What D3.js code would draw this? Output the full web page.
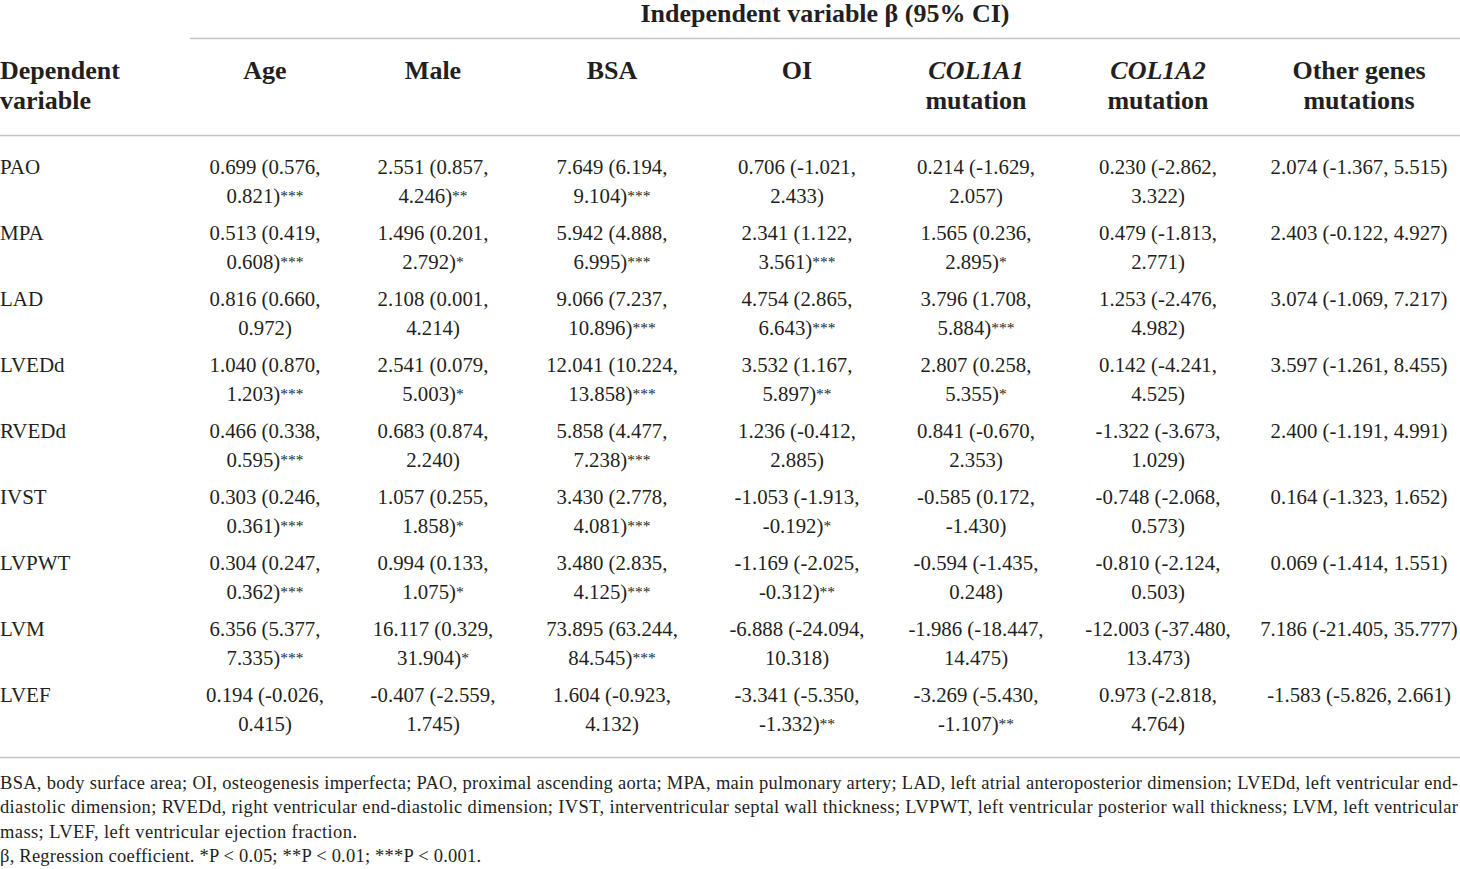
<!DOCTYPE html>
<html><head><meta charset="utf-8">
<script src="https://cdn.jsdelivr.net/npm/d3@7"></script>
<style>
html,body{margin:0;padding:0;background:#fff;}
svg{display:block;}
text{font-family:"Liberation Serif","Times New Roman",serif;fill:#231f20;}
</style></head>
<body>
<svg id="chart" width="1460" height="869"></svg>
<script>
// ---- data ----
const spanner = "Independent variable \u03b2 (95% CI)";
const rowHeaderLines = ["Dependent", "variable"];
const columns = ["Age", "Male", "BSA", "OI", "COL1A1 mutation", "COL1A2 mutation", "Other genes mutations"];
const columnLines = [["Age"], ["Male"], ["BSA"], ["OI"], ["COL1A1", "mutation"], ["COL1A2", "mutation"], ["Other genes", "mutations"]];
const italicFirstLine = [false, false, false, false, true, true, false];
const rows = ["PAO", "MPA", "LAD", "LVEDd", "RVEDd", "IVST", "LVPWT", "LVM", "LVEF"];

const age = ["0.699 (0.576, 0.821)***", "0.513 (0.419, 0.608)***", "0.816 (0.660, 0.972)", "1.040 (0.870, 1.203)***", "0.466 (0.338, 0.595)***", "0.303 (0.246, 0.361)***", "0.304 (0.247, 0.362)***", "6.356 (5.377, 7.335)***", "0.194 (-0.026, 0.415)"];
const male = ["2.551 (0.857, 4.246)**", "1.496 (0.201, 2.792)*", "2.108 (0.001, 4.214)", "2.541 (0.079, 5.003)*", "0.683 (0.874, 2.240)", "1.057 (0.255, 1.858)*", "0.994 (0.133, 1.075)*", "16.117 (0.329, 31.904)*", "-0.407 (-2.559, 1.745)"];
const bsa = ["7.649 (6.194, 9.104)***", "5.942 (4.888, 6.995)***", "9.066 (7.237, 10.896)***", "12.041 (10.224, 13.858)***", "5.858 (4.477, 7.238)***", "3.430 (2.778, 4.081)***", "3.480 (2.835, 4.125)***", "73.895 (63.244, 84.545)***", "1.604 (-0.923, 4.132)"];
const oi = ["0.706 (-1.021, 2.433)", "2.341 (1.122, 3.561)***", "4.754 (2.865, 6.643)***", "3.532 (1.167, 5.897)**", "1.236 (-0.412, 2.885)", "-1.053 (-1.913, -0.192)*", "-1.169 (-2.025, -0.312)**", "-6.888 (-24.094, 10.318)", "-3.341 (-5.350, -1.332)**"];
const col1a1 = ["0.214 (-1.629, 2.057)", "1.565 (0.236, 2.895)*", "3.796 (1.708, 5.884)***", "2.807 (0.258, 5.355)*", "0.841 (-0.670, 2.353)", "-0.585 (0.172, -1.430)", "-0.594 (-1.435, 0.248)", "-1.986 (-18.447, 14.475)", "-3.269 (-5.430, -1.107)**"];
const col1a2 = ["0.230 (-2.862, 3.322)", "0.479 (-1.813, 2.771)", "1.253 (-2.476, 4.982)", "0.142 (-4.241, 4.525)", "-1.322 (-3.673, 1.029)", "-0.748 (-2.068, 0.573)", "-0.810 (-2.124, 0.503)", "-12.003 (-37.480, 13.473)", "0.973 (-2.818, 4.764)"];
const otherGenes = ["2.074 (-1.367, 5.515)", "2.403 (-0.122, 4.927)", "3.074 (-1.069, 7.217)", "3.597 (-1.261, 8.455)", "2.400 (-1.191, 4.991)", "0.164 (-1.323, 1.652)", "0.069 (-1.414, 1.551)", "7.186 (-21.405, 35.777)", "-1.583 (-5.826, 2.661)"];
const columnValues = [age, male, bsa, oi, col1a1, col1a2, otherGenes];
const wrapColumn = [true, true, true, true, true, true, false];

const footnotes = [
  "BSA, body surface area; OI, osteogenesis imperfecta; PAO, proximal ascending aorta; MPA, main pulmonary artery; LAD, left atrial anteroposterior dimension; LVEDd, left ventricular end-",
  "diastolic dimension; RVEDd, right ventricular end-diastolic dimension; IVST, interventricular septal wall thickness; LVPWT, left ventricular posterior wall thickness; LVM, left ventricular",
  "mass; LVEF, left ventricular ejection fraction.",
  "\u03b2, Regression coefficient. *P < 0.05; **P < 0.01; ***P < 0.001."
];

// ---- layout ----
const W = 1460;
const svg = d3.select("#chart");
const lineColor = "#c4c4c4";
const x = d3.scaleOrdinal().domain(columns).range([265, 433, 612, 797, 976, 1158, 1359]);
const y = d3.scalePoint().domain(rows).range([174, 174 + 66 * (rows.length - 1)]);
const lineH = 29;
const footWidths = [1458, 1458, 357, 481];

// rules
svg.append("line").attr("x1", 190).attr("x2", W).attr("y1", 38.5).attr("y2", 38.5).attr("stroke", lineColor).attr("stroke-width", 1.5);
svg.append("line").attr("x1", 0).attr("x2", W).attr("y1", 135.5).attr("y2", 135.5).attr("stroke", lineColor).attr("stroke-width", 1.5);
svg.append("line").attr("x1", 0).attr("x2", W).attr("y1", 757.5).attr("y2", 757.5).attr("stroke", lineColor).attr("stroke-width", 1.5);

const headSize = 26;
// spanner header
svg.append("text").attr("x", 825).attr("y", 22).attr("text-anchor", "middle")
  .attr("font-size", headSize).attr("font-weight", "bold").text(spanner);

// row header
svg.append("g").selectAll("text").data(rowHeaderLines).join("text")
  .attr("x", 0).attr("y", (d, i) => 79 + i * 30)
  .attr("font-size", headSize).attr("font-weight", "bold").text(d => d);

// column headers
columns.forEach((c, ci) => {
  svg.append("g").selectAll("text").data(columnLines[ci]).join("text")
    .attr("x", x(c)).attr("y", (d, i) => 79 + i * 30)
    .attr("text-anchor", "middle").attr("font-size", headSize).attr("font-weight", "bold")
    .attr("font-style", (d, i) => (i === 0 && italicFirstLine[ci]) ? "italic" : "normal")
    .text(d => d);
});

// row labels
svg.append("g").selectAll("text").data(rows).join("text")
  .attr("x", 0).attr("y", d => y(d)).attr("font-size", 21).text(d => d);

// cells
function addCellLine(g, str, cx, cy) {
  const m = str.match(/^(.*?)(\**)$/);
  const t = g.append("text").attr("x", cx).attr("y", cy).attr("text-anchor", "middle").attr("font-size", 20.8);
  t.append("tspan").text(m[1]);
  if (m[2]) t.append("tspan").attr("font-size", 15.5).attr("dy", -2).text(m[2]);
}
columns.forEach((c, ci) => {
  const g = svg.append("g");
  columnValues[ci].forEach((v, ri) => {
    const cy = y(rows[ri]);
    if (wrapColumn[ci]) {
      const k = v.indexOf(", ");
      addCellLine(g, v.slice(0, k + 1), x(c), cy);
      addCellLine(g, v.slice(k + 2), x(c), cy + lineH);
    } else {
      addCellLine(g, v, x(c), cy);
    }
  });
});

// footnotes
svg.append("g").selectAll("text").data(footnotes).join("text")
  .attr("x", 0).attr("y", (d, i) => 789 + i * 24.3)
  .attr("font-size", 18.5)
  .attr("textLength", (d, i) => footWidths[i])
  .attr("lengthAdjust", "spacing")
  .text(d => d);
</script>
</body></html>
